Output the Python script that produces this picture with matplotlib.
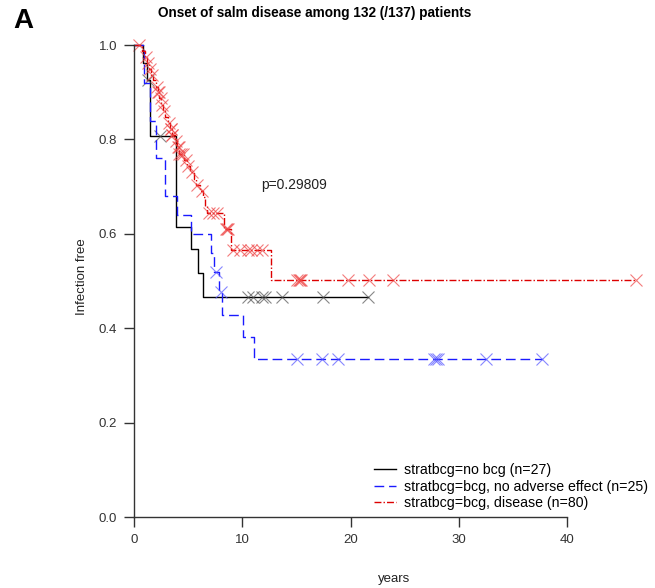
import numpy as np
import matplotlib
matplotlib.use('Agg')
import matplotlib.pyplot as plt
from matplotlib.lines import Line2D

plt.rcParams['font.family'] = ['Liberation Sans', 'DejaVu Sans']

# Kaplan-Meier step curves: (time, survival) after each drop
nobcg_t = [0, 0.85, 1.2, 1.45, 3.9, 5.3, 5.9, 6.4]
nobcg_s = [1.0, 0.963, 0.926, 0.807, 0.615, 0.567, 0.518, 0.466]
nobcg_cens = [1.3, 2.4, 10.5, 11.0, 11.8, 12.1, 13.7, 17.5, 21.6]

noae_t = [0, 0.9, 1.5, 2.0, 2.9, 4.0, 5.3, 7.1, 7.4, 7.85, 8.1, 10.1, 11.1]
noae_s = [1.0, 0.92, 0.84, 0.76, 0.68, 0.64, 0.60, 0.56, 0.52, 0.477, 0.429, 0.381, 0.334]
noae_cens = [7.6, 8.0, 15.1, 17.4, 18.8, 27.7, 27.9, 28.1, 32.5, 37.7]

dis_t = [0, 0.75, 1.0, 1.2, 1.4, 1.6, 1.8, 2.0, 2.2, 2.35, 2.5, 2.7, 2.9, 3.1, 3.3,
         3.5, 3.8, 4.0, 4.2, 4.6, 4.9, 5.2, 5.5, 5.7, 6.1, 6.4, 6.55, 6.7, 8.3, 9.0, 12.65]
dis_s = [1.0, 0.988, 0.975, 0.962, 0.95, 0.937, 0.925, 0.912, 0.90, 0.887, 0.874, 0.861,
         0.848, 0.835, 0.822, 0.809, 0.796, 0.783, 0.770, 0.757, 0.744, 0.730, 0.717,
         0.704, 0.690, 0.677, 0.66, 0.644, 0.61, 0.566, 0.502]
dis_cens = [0.5, 1.1, 1.3, 1.5, 1.7, 2.1, 2.25, 2.3, 2.45, 2.6, 2.8, 3.2, 3.4, 3.45, 3.5,
            3.55, 3.9, 4.1, 4.15, 4.2, 4.3, 4.5, 4.8, 5.0, 5.4, 5.8, 6.3, 6.9, 7.3, 7.7,
            8.5, 8.6, 8.7, 9.1, 9.8, 10.5, 10.8, 11.4, 11.8, 15.1, 15.2, 15.3, 15.4,
            19.8, 21.7, 23.9, 46.4]

labels = ['stratbcg=no bcg (n=27)',
          'stratbcg=bcg, no adverse effect (n=25)',
          'stratbcg=bcg, disease (n=80)']
p_text = 'p=0.29809'

fig = plt.figure(figsize=(6.55, 5.88), dpi=100, facecolor='white')
ax = fig.add_axes([134 / 655, 71 / 588, 519.6 / 655, 481.4 / 588])

groups = [
    (nobcg_t, nobcg_s, nobcg_cens, '#000000', '#555555', '-'),
    (noae_t, noae_s, noae_cens, '#1a1aff', '#5555ff', (0, (7, 3.5))),
    (dis_t, dis_s, dis_cens, '#dd0000', '#ee4444', (0, (5, 1.5, 1, 1.5))),
]

for t, s, cens, col, mcol, ls in groups:
    t = np.asarray(t)
    s = np.asarray(s)
    cens = np.asarray(cens)
    end = max(t.max(), cens.max())
    xs = np.append(t, end)
    ys = np.append(s, s[-1])
    ax.step(xs, ys, where='post', color=col, lw=1.0, linestyle=ls, clip_on=False)
    idx = np.searchsorted(t, cens, side='right') - 1
    ax.plot(cens, s[idx], linestyle='none', marker='x', ms=8, mew=0.8,
            color=mcol, alpha=0.7, clip_on=False)

ax.set_xlim(0, 48)
ax.set_ylim(0, 1.02)
for side in ['top', 'right']:
    ax.spines[side].set_visible(False)
ax.spines['left'].set_bounds(0, 1.0)
ax.spines['bottom'].set_bounds(0, 40)
for side in ['left', 'bottom']:
    ax.spines[side].set_color('#333333')
    ax.spines[side].set_linewidth(1.0)
ax.set_xticks([0, 10, 20, 30, 40])
ax.set_yticks([0.0, 0.2, 0.4, 0.6, 0.8, 1.0])
ax.set_yticklabels([f'{v:.1f}' for v in [0.0, 0.2, 0.4, 0.6, 0.8, 1.0]])
ax.tick_params(direction='out', length=7, width=1.0, color='#333333',
               labelsize=9.5, labelcolor='#333333', pad=5)

ax.set_xlabel('years', fontsize=9.5, color='#222222', labelpad=20)
ax.set_ylabel('Infection free', fontsize=9.5, color='#222222', labelpad=8)

ax.text(14.8, 0.703, p_text, ha='center', va='center', fontsize=10, color='#222222')

handles = [Line2D([], [], color=g[3], lw=1.0, linestyle=g[5]) for g in groups]
ax.legend(handles, labels, loc='lower right', bbox_to_anchor=(1.006, -0.004),
          frameon=False, fontsize=10.2, handlelength=1.6, handletextpad=0.55,
          labelspacing=0.2, borderaxespad=0.2)

fig.text(315 / 655, 1 - 13 / 588, 'Onset of salm disease among 132 (/137) patients',
         ha='center', va='center', fontsize=9.8, fontweight='bold')
fig.text(23 / 655, 1 - 21 / 588, 'A', ha='center', va='center', fontsize=20,
         fontweight='bold')

fig.savefig('out.png', dpi=100, facecolor='white')
